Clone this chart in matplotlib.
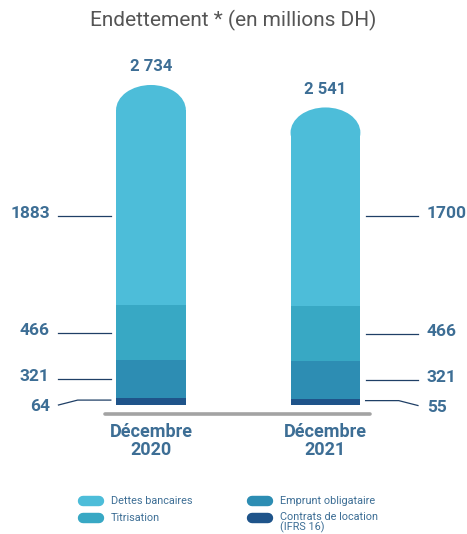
import matplotlib.pyplot as plt
from matplotlib.patches import Rectangle, Ellipse
from matplotlib.lines import Line2D

# data (millions DH)
periods = ["Décembre\n2020", "Décembre\n2021"]
totals = ["2 734", "2 541"]
contrats = [64, 55]
emprunt = [321, 321]
titrisation = [466, 466]
dettes = [1883, 1700]

series_names = ["Dettes bancaires", "Titrisation", "Emprunt obligataire",
                "Contrats de location\n(IFRS 16)"]
colors = {"dettes": "#4dbdd9", "titri": "#38a8c4", "emprunt": "#2d8db3",
          "contrats": "#1f548a"}
txt_blue = "#3d6e95"
line_col = "#1f3f66"

plt.rcParams['font.family'] = ['Roboto', 'DejaVu Sans']

fig = plt.figure(figsize=(4.67, 5.34), dpi=100)
ax = fig.add_axes([0, 0, 1, 1])
ax.set_xlim(-0.865, 1.811)
ax.set_ylim(-1102, 3460)
ax.axis('off')

w = 0.40
cap = 215  # height of rounded top, value units

for i in range(2):
    b = 0
    ax.bar(i, contrats[i], w, bottom=b, color=colors["contrats"])
    b += contrats[i]
    ax.bar(i, emprunt[i], w, bottom=b, color=colors["emprunt"])
    b += emprunt[i]
    ax.bar(i, titrisation[i], w, bottom=b, color=colors["titri"])
    b += titrisation[i]
    top = b + dettes[i]
    ax.add_patch(Rectangle((i - w / 2, b), w, dettes[i] - cap,
                           color=colors["dettes"], lw=0))
    ax.add_patch(Ellipse((i, top - cap), w, 2 * cap,
                         color=colors["dettes"], lw=0))
    ax.text(i, top + 90, totals[i], ha='center', va='bottom',
            fontsize=12, fontweight='bold', color=txt_blue)
    ax.text(i, -150, periods[i], ha='center', va='top', fontsize=13,
            fontweight='bold', color=txt_blue, linespacing=1.05)

# ground line
ax.plot([-0.265, 1.255], [-75, -75], color="#a3a3a3", lw=2.6,
        solid_capstyle='round')

# leader lines and side labels
gap = 0.03
ln = 0.30
y_d = max(contrats[j] + emprunt[j] + titrisation[j] for j in range(2)) + 0.45 * min(dettes)
for i, side in [(0, -1), (1, 1)]:
    x0 = i + side * (w / 2 + gap)
    x1 = x0 + side * ln
    xt = x1 + side * 0.05
    ha = 'right' if side < 0 else 'left'
    mids = [
        (contrats[i] / 2 + 10, contrats[i]),
        (contrats[i] + emprunt[i] / 2, emprunt[i]),
        (contrats[i] + emprunt[i] + titrisation[i] / 2, titrisation[i]),
        (y_d, dettes[i]),
    ]
    for k, (y, v) in enumerate(mids):
        if k == 0:
            xk = x0 + side * 0.19
            ax.plot([x0, xk, x1], [y, y, y - 42], color=line_col, lw=0.9)
            ax.text(xt, y - 55, str(v), ha=ha, va='center', fontsize=12.5,
                    fontweight='bold', color=txt_blue)
        else:
            ax.plot([x0, x1], [y, y], color=line_col, lw=0.9)
            ax.text(xt, y + 22, str(v), ha=ha, va='center', fontsize=12.5,
                    fontweight='bold', color=txt_blue)

# legend
leg_cols = [colors["dettes"], colors["titri"], colors["emprunt"], colors["contrats"]]
leg_pos = [(78, 501), (78, 518), (247, 501), (247, 518)]
for name, c, (px, py) in zip(series_names, leg_cols, leg_pos):
    fy = 1 - py / 534
    fig.add_artist(Line2D([(px + 5) / 467, (px + 21) / 467], [fy, fy],
                          color=c, lw=7.5, solid_capstyle='round'))
    if '\n' in name:
        fig.text((px + 33) / 467, fy + 0.012, name, ha='left', va='top',
                 fontsize=7.8, color=txt_blue, linespacing=0.95)
    else:
        fig.text((px + 33) / 467, fy, name, ha='left', va='center',
                 fontsize=7.8, color=txt_blue)

fig.text(0.5, 1 - 20 / 534, "Endettement * (en millions DH)", ha='center',
         va='center', fontsize=15, color="#555555")

fig.savefig("out.png", dpi=100)
